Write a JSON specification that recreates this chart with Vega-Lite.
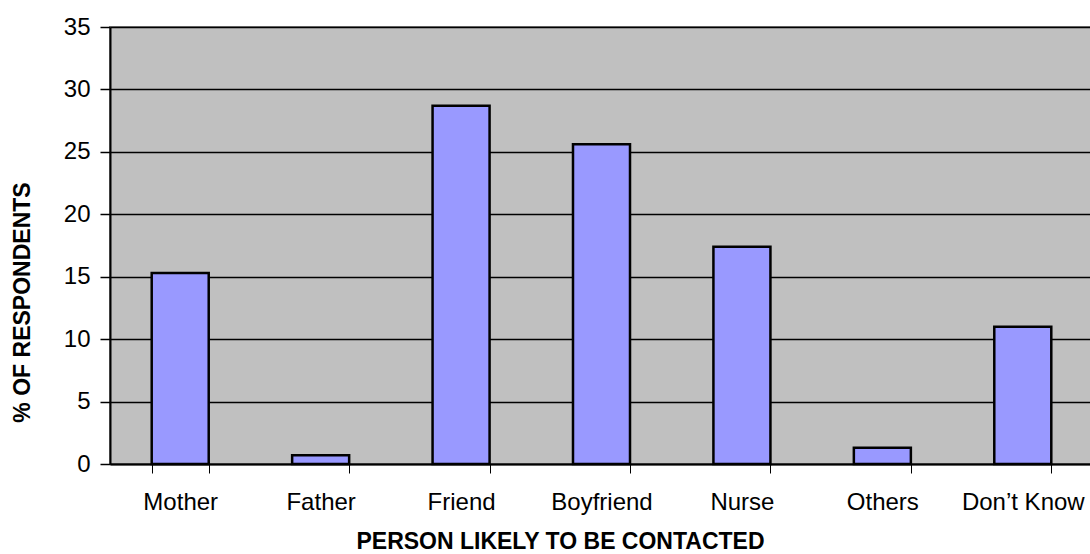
{
  "$schema": "https://vega.github.io/schema/vega-lite/v6.json",
  "width": 983,
  "height": 437,
  "autosize": {"type": "none"},
  "padding": {"left": 110, "top": 27, "right": 0, "bottom": 90},
  "background": "white",
  "config": {
    "view": {"fill": "#C0C0C0", "stroke": "#808080", "strokeWidth": 2},
    "font": "Liberation Sans"
  },
  "data": {
    "values": [
      {"person": "Mother", "pct": 15.3},
      {"person": "Father", "pct": 0.7},
      {"person": "Friend", "pct": 28.7},
      {"person": "Boyfriend", "pct": 25.6},
      {"person": "Nurse", "pct": 17.4},
      {"person": "Others", "pct": 1.3},
      {"person": "Don’t Know", "pct": 11.0}
    ]
  },
  "mark": {"type": "bar", "fill": "#9999FF", "stroke": "#000000", "strokeWidth": 2.5},
  "encoding": {
    "x": {
      "field": "person",
      "type": "nominal",
      "sort": null,
      "scale": {"paddingInner": 0.594, "paddingOuter": 0.297},
      "axis": {
        "title": "PERSON LIKELY TO BE CONTACTED",
        "titleFont": "Liberation Sans",
        "titleFontSize": 23,
        "titleFontWeight": "bold",
        "titleColor": "#000000",
        "titleX": 450,
        "titleY": 77,
        "titleBaseline": "middle",
        "titleAnchor": null,
        "labelAngle": 0,
        "labelFontSize": 24,
        "labelColor": "#000000",
        "labelPadding": 17,
        "tickBand": "extent",
        "tickSize": 9,
        "tickColor": "#000000",
        "tickWidth": 1,
        "domainColor": "#000000",
        "domainWidth": 2,
        "grid": false
      }
    },
    "y": {
      "field": "pct",
      "type": "quantitative",
      "scale": {"domain": [0, 35], "nice": false},
      "axis": {
        "title": "% OF RESPONDENTS",
        "titleFont": "Liberation Sans",
        "titleFontSize": 23,
        "titleFontWeight": "bold",
        "titleColor": "#000000",
        "titleX": -88,
        "titleY": 275,
        "titleBaseline": "middle",
        "titleAngle": -90,
        "values": [0, 5, 10, 15, 20, 25, 30, 35],
        "labelFontSize": 24,
        "labelColor": "#000000",
        "labelPadding": 10,
        "tickSize": 10,
        "tickColor": "#000000",
        "tickWidth": 1.5,
        "domainColor": "#000000",
        "domainWidth": 2,
        "grid": true,
        "gridColor": "#000000",
        "gridWidth": 1.5,
        "gridOpacity": 1
      }
    }
  }
}
